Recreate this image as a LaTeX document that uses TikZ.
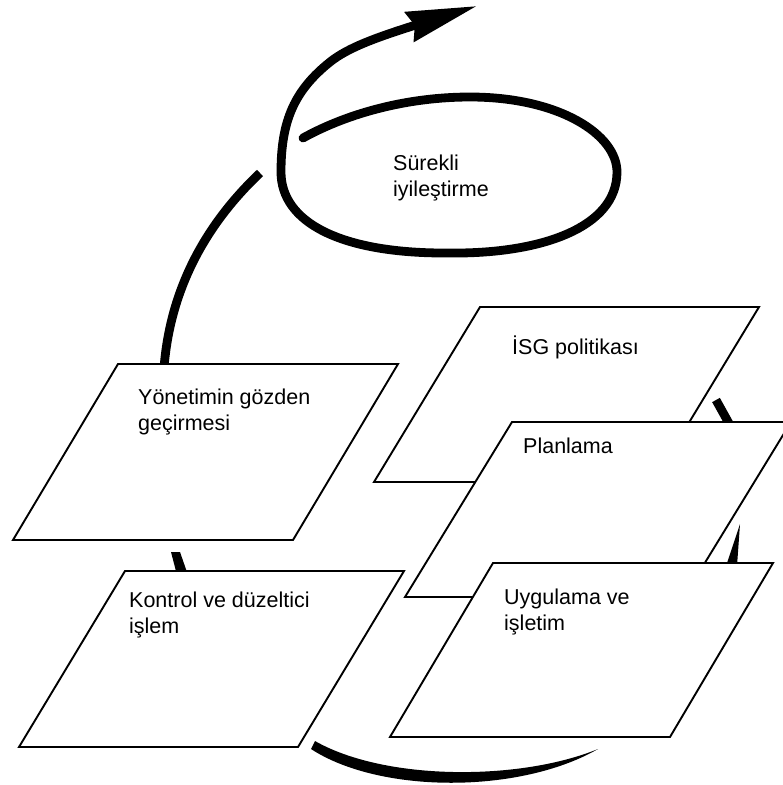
\documentclass[tikz,border=0pt]{standalone}
\usepackage{fontspec}
\setmainfont{Liberation Sans}
\usetikzlibrary{arrows.meta,bending}

\tikzset{
  plate/.style={draw, fill=white, line width=1.9pt, line join=miter},
  band/.style={line width=8.8pt},
  lbl/.style={anchor=base west, inner sep=0pt, align=left, font=\fontsize{21.5}{25.5}\selectfont}
}

\begin{document}
\begin{tikzpicture}[x=1pt,y=-1pt]
\useasboundingbox (0,0) rectangle (783,785);
%ends of the cycle pieces
\coordinate (s0) at (303,138);
\coordinate (s1) at (281,172);
\coordinate (tip) at (477,6);
\coordinate (a1) at (164,368);
\coordinate (a2) at (260,173);
\coordinate (p1) at (716,400);
\coordinate (p2) at (731,427);
%the spiral
\draw[band, line cap=round, -{Stealth[length=70pt,width=30pt,inset=5pt,flex]}]
  (s0) .. controls (350,112) and (410,97) .. (470,97)
  .. controls (560,97) and (617,135) .. (617,172)
  .. controls (617,228) and (540,254) .. (450,253)
  .. controls (340,254) and (281,222) .. (s1)
  .. controls (281,120) and (295,90) .. (330,62)
  .. controls (355,42) and (400,30) .. (tip);
%cycle pieces
\draw[band] (a1) .. controls (170,290) and (205,225) .. (a2);
\draw[band] (p1) -- (p2);
\fill (740,524) -- (737,566) -- (726,566) -- cycle;
\fill (171,552) -- (180,552) -- (188,575) -- (177,575) -- cycle;
\fill (311,749) .. controls (380,794) and (520,794) .. (598,749)
  .. controls (520,781) and (385,781) .. (315,741) -- cycle;
%plates
\draw[plate] (374,482) -- (480,307) -- (759,307) -- (653,482) -- cycle;
\draw[plate] (405,597) -- (512,422) -- (791,422) -- (684,597) -- cycle;
\draw[plate] (390,737) -- (493,563) -- (773,563) -- (670,737) -- cycle;
\draw[plate] (13,540) -- (118,364) -- (398,364) -- (293,540) -- cycle;
\draw[plate] (19,747) -- (125,571) -- (404,571) -- (298,747) -- cycle;
%labels (base = last line)
\node[lbl] (surekli) at (393,196) {Sürekli\\iyileştirme};
\node[lbl] (isg) at (512,354) {İSG politikası};
\node[lbl] (plan) at (523,453) {Planlama};
\node[lbl] (uyg) at (504,630) {Uygulama ve\\işletim};
\node[lbl] (yon) at (138,430) {Yönetimin gözden\\geçirmesi};
\node[lbl] (kon) at (129,633) {Kontrol ve düzeltici\\işlem};
\end{tikzpicture}
\end{document}
